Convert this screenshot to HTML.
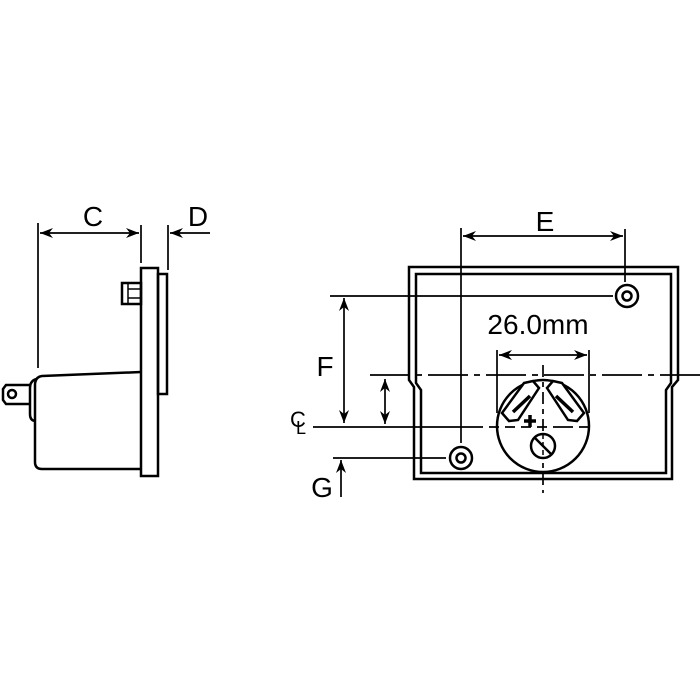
<!DOCTYPE html>
<html><head><style>
html,body{margin:0;padding:0;background:#fff;}
svg{display:block;}
text{font-family:"Liberation Sans",Arial,sans-serif;fill:#000;}
</style></head><body>
<svg width="700" height="700" viewBox="0 0 700 700" xmlns="http://www.w3.org/2000/svg">
<defs>
<marker id="a" markerWidth="14" markerHeight="10" refX="13" refY="5" orient="auto" markerUnits="userSpaceOnUse">
<path d="M0,0 L13,5 L0,10 L4,5 Z" fill="#000"/></marker>
</defs>
<g stroke="#000" fill="none" stroke-width="1.7">
<!-- LEFT VIEW -->
<line x1="38" y1="223" x2="38" y2="368"/>
<line x1="141" y1="225" x2="141" y2="263"/>
<line x1="168" y1="225" x2="168" y2="270"/>
<line x1="90" y1="233" x2="40" y2="233" marker-end="url(#a)"/>
<line x1="90" y1="233" x2="139" y2="233" marker-end="url(#a)"/>
<line x1="210" y1="233" x2="170" y2="233" marker-end="url(#a)"/>
<g stroke-width="2.5">
<rect x="141" y="268" width="17" height="208"/>
<rect x="158" y="274" width="9" height="120"/>
<rect x="122" y="283" width="19" height="21"/>
<line x1="128" y1="289" x2="141" y2="289" stroke-width="1.5"/>
<line x1="128" y1="298" x2="141" y2="298" stroke-width="1.5"/>
<line x1="128" y1="283" x2="128" y2="304" stroke-width="1.5"/>
<path d="M141,372 L42,376 Q35,377 35,385 L35,462 Q35,469 42,469 L141,469"/>
<path d="M36,379 Q30,381 30,388 L30,414 Q30,421 36,421"/>
<path d="M30,385 L6,385 L3,389 L3,400 L6,404 L30,404"/>
<circle cx="12" cy="394" r="4"/>
</g>
<!-- dimensions right -->
<line x1="461" y1="228" x2="461" y2="443"/>
<line x1="625" y1="229" x2="625" y2="282"/>
<line x1="543" y1="236" x2="463" y2="236" marker-end="url(#a)"/>
<line x1="543" y1="236" x2="623" y2="236" marker-end="url(#a)"/>
<line x1="330" y1="296" x2="613" y2="296"/>
<line x1="344" y1="360" x2="344" y2="298" marker-end="url(#a)"/>
<line x1="344" y1="360" x2="344" y2="423" marker-end="url(#a)"/>
<line x1="385" y1="400" x2="385" y2="379" marker-end="url(#a)"/>
<line x1="385" y1="400" x2="385" y2="424" marker-end="url(#a)"/>
<line x1="370" y1="375" x2="700" y2="375" stroke-dasharray="40,6,6,6"/>
<line x1="313" y1="427" x2="598" y2="427" stroke-dasharray="170,6,10,6,10,6,10,6,10,6,20,6,10"/>
<line x1="543" y1="365" x2="543" y2="493" stroke-dasharray="12,5,5,5"/>
<line x1="497" y1="350" x2="497" y2="413"/>
<line x1="589" y1="350" x2="589" y2="413"/>
<line x1="543" y1="355" x2="499" y2="355" marker-end="url(#a)"/>
<line x1="543" y1="355" x2="587" y2="355" marker-end="url(#a)"/>
<line x1="333" y1="458" x2="446" y2="458"/>
<line x1="341" y1="497" x2="341" y2="460" marker-end="url(#a)"/>
<!-- RIGHT VIEW frame -->
<g stroke-width="2.5">
<path d="M409,267 L678,267 L678,380 L672,387 L672,479 L414,479 L414,387 L409,380 Z"/>
<path d="M416,274 L671,274 L671,383 L666,390 L666,473 L421,473 L421,390 L416,383 Z"/>
<circle cx="627" cy="296" r="11"/>
<circle cx="627" cy="296" r="4.5"/>
<circle cx="461" cy="458" r="11"/>
<circle cx="461" cy="458" r="4.5"/>
<circle cx="543" cy="426" r="46"/>
<path d="M524,383 L533,381 L539,388 L518,420 L509,421 L502,413 Z" fill="#fff"/>
<path d="M562,383 L553,381 L547,388 L568,420 L577,421 L584,413 Z" fill="#fff"/>
<line x1="530" y1="396" x2="513" y2="412" stroke-width="3.5"/>
<line x1="556" y1="396" x2="573" y2="412" stroke-width="3.5"/>
<circle cx="543" cy="446" r="12" fill="#fff"/>
<line x1="535" y1="438" x2="551" y2="454"/>
<line x1="543" y1="434" x2="543" y2="458" stroke-width="1.5" stroke-dasharray="5,3"/>
<line x1="524" y1="421" x2="536" y2="421" stroke-width="3.5"/>
<line x1="530" y1="415" x2="530" y2="427" stroke-width="3.5"/>
</g>
</g>
<g font-size="28">
<text x="93" y="226" text-anchor="middle">C</text>
<text x="198" y="226" text-anchor="middle">D</text>
<text x="545" y="231" text-anchor="middle">E</text>
<text x="325" y="376" text-anchor="middle">F</text>
<text x="322" y="497" text-anchor="middle">G</text>
<text x="538" y="334" text-anchor="middle">26.0mm</text>
</g>
<text x="290" y="427" font-size="22">C</text>
<text x="296" y="434" font-size="18">L</text>
</svg>
</body></html>
